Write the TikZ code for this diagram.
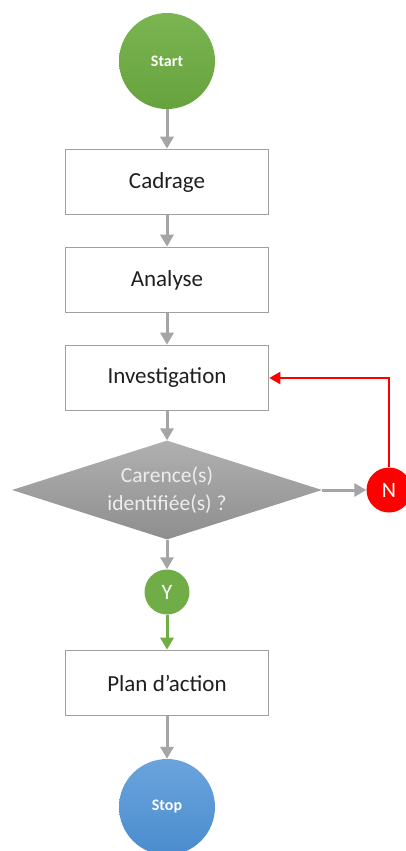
\documentclass[tikz,border=0pt]{standalone}
\usepackage{fontspec}
\setmainfont{Carlito}
\usetikzlibrary{arrows.meta,shapes.geometric}
\definecolor{gArrow}{HTML}{A5A5A5}
\definecolor{boxBorder}{HTML}{A0A0A0}
\definecolor{startTop}{HTML}{7AB552}
\definecolor{startBot}{HTML}{66A23E}
\definecolor{stopTop}{HTML}{6BA4DC}
\definecolor{stopBot}{HTML}{4A8CCF}
\definecolor{diaTop}{HTML}{B0B0B0}
\definecolor{diaBot}{HTML}{8E8E8E}
\definecolor{okGreen}{HTML}{70AD47}
\definecolor{noRed}{HTML}{FF0000}
\definecolor{diaText}{HTML}{EDEDED}
\tikzset{
  stepbox/.style={draw=boxBorder, line width=1.6pt, fill=white, minimum width=203pt, minimum height=65pt, inner sep=0pt, font=\fontsize{23}{26}\selectfont, text=black!88},
  term/.style={circle, minimum size=96pt, inner sep=0pt, text=white, font=\fontsize{16}{18}\selectfont\bfseries},
  smallc/.style={circle, minimum size=45pt, inner sep=0pt, text=white, font=\fontsize{22}{24}\selectfont},
  flow/.style={draw=gArrow, line width=3pt, -{Triangle[length=12pt,width=13pt]}},
}
\begin{document}
\begin{tikzpicture}[x=1pt,y=-1pt]
\useasboundingbox (0,0) rectangle (405,851);
\node[term, top color=startTop, bottom color=startBot] (start) at (167,61) {Start};
\node[stepbox] (cad) at (167,182) {Cadrage};
\node[stepbox] (ana) at (167,280) {Analyse};
\node[stepbox] (inv) at (167,378) {Investigation};
\node[diamond, aspect=3.1, minimum width=310pt, minimum height=99pt, inner sep=0pt, top color=diaTop, bottom color=diaBot, text=diaText, align=center, font=\fontsize{21.5}{28}\selectfont] (dec) at (167,490) {Carence(s)\\identifiée(s) ?};
\node[smallc, fill=noRed] (no) at (389,490) {N};
\node[smallc, fill=okGreen] (yes) at (167,592) {Y};
\node[stepbox] (plan) at (167,683) {Plan d’action};
\node[term, top color=stopTop, bottom color=stopBot] (stop) at (167,807) {Stop};
\draw[flow] (start) -- (cad);
\draw[flow] (cad) -- (ana);
\draw[flow] (ana) -- (inv);
\draw[flow] (inv) -- (dec);
\draw[flow] (dec) -- (no);
\draw[flow] (dec) -- (yes);
\draw[flow, draw=okGreen] (yes) -- (plan);
\draw[flow] (plan) -- (stop);
\draw[draw=noRed, line width=2.2pt, -{Triangle[length=11pt,width=12pt]}] (no.north) |- (inv.east);
\end{tikzpicture}
\end{document}
